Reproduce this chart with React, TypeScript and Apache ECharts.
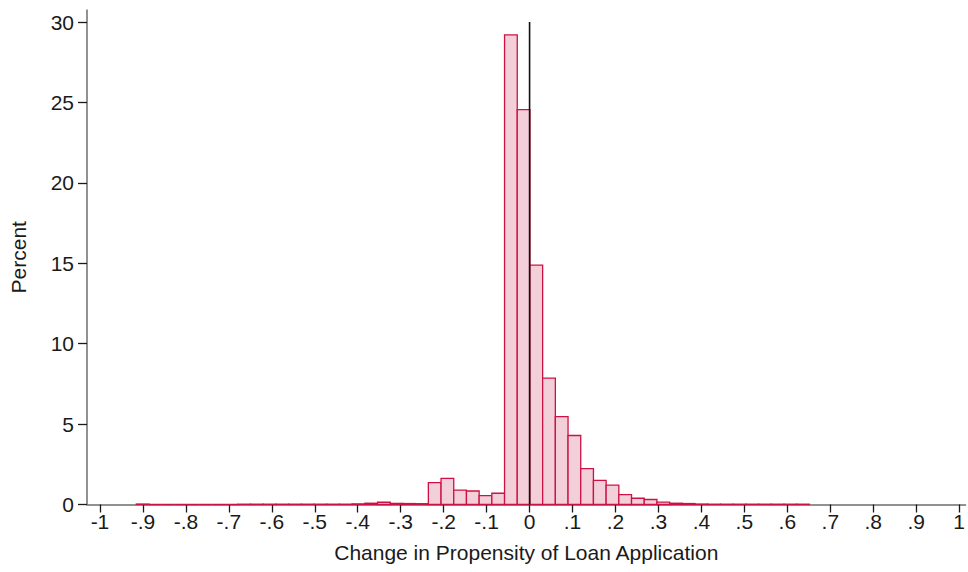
import React, { useEffect, useRef } from "react";
import * as echarts from "echarts";

// Histogram bins (Stata-style: equal width starting at min)
const binStart = -0.9155;
const binWidth = 0.02956;
const percents = [
  0.03, 0, 0, 0, 0, 0, 0, 0,
  0.02, 0.02, 0.02, 0.02, 0.02, 0.02, 0.02, 0.02, 0.02,
  0.04, 0.08, 0.14, 0.07, 0.06, 0.05,
  1.36, 1.63, 0.9, 0.84, 0.55, 0.7,
  29.2, 24.55, 14.88, 7.86, 5.47, 4.29, 2.23, 1.5, 1.2, 0.62, 0.39, 0.31, 0.15, 0.08, 0.06,
  0.03, 0.02, 0.02, 0.02, 0.02, 0.02, 0.02, 0.02, 0.02,
];
const xTicks = [-1, -0.9, -0.8, -0.7, -0.6, -0.5, -0.4, -0.3, -0.2, -0.1, 0, 0.1, 0.2, 0.3, 0.4, 0.5, 0.6, 0.7, 0.8, 0.9, 1];
const yTicks = [0, 5, 10, 15, 20, 25, 30];
const refLine = [
  [0, 0],
  [0, 30],
];
const xTitle = "Change in Propensity of Loan Application";
const yTitle = "Percent";

const FONT = "'Liberation Sans', Arial, Helvetica, sans-serif";

function fmtTick(v: number): string {
  if (v === 0) return "0";
  if (v === 1) return "1";
  if (v === -1) return "-1";
  const s = (Math.round(v * 10) / 10).toString();
  return s.replace("0.", ".");
}

export default function App() {
  const ref = useRef<HTMLDivElement>(null);
  useEffect(() => {
    if (!ref.current) return;
    const chart = echarts.init(ref.current, undefined, { renderer: "svg" });
    const binData = percents.map((p, i) => [binStart + i * binWidth, binStart + (i + 1) * binWidth, p]);
    chart.setOption({
      animation: false,
      backgroundColor: "#ffffff",
      grid: { left: 85, right: 1, top: 10, bottom: 67.5, containLabel: false },
      xAxis: {
        type: "value",
        min: -1.0302,
        max: 1.0148,
        name: xTitle,
        nameLocation: "middle",
        nameGap: 37,
        nameTextStyle: { fontFamily: FONT, fontSize: 21, color: "#1a1a1a" },
        splitLine: { show: false },
        axisLine: { show: true, onZero: false, lineStyle: { color: "#6e6e6e", width: 1.5 } },
        axisTick: { show: true, length: 8, customValues: xTicks, lineStyle: { color: "#1a1a1a", width: 1.3 } },
        axisLabel: {
          customValues: xTicks,
          formatter: (v: number) => fmtTick(v),
          fontFamily: FONT,
          fontSize: 21,
          color: "#1a1a1a",
          margin: 6,
        },
      },
      yAxis: {
        type: "value",
        min: 0,
        max: 30.75,
        name: yTitle,
        nameLocation: "middle",
        nameGap: 58,
        nameTextStyle: { fontFamily: FONT, fontSize: 21, color: "#1a1a1a" },
        splitLine: { show: false },
        axisLine: { show: true, onZero: false, lineStyle: { color: "#6e6e6e", width: 1.5 } },
        axisTick: { show: true, length: 9, customValues: yTicks, lineStyle: { color: "#1a1a1a", width: 1.3 } },
        axisLabel: {
          customValues: yTicks,
          fontFamily: FONT,
          fontSize: 21,
          color: "#1a1a1a",
          margin: 13,
        },
      },
      series: [
        {
          type: "custom",
          data: binData,
          encode: { x: [0, 1], y: 2 },
          renderItem: (params: any, api: any) => {
            const p0 = api.coord([api.value(0), 0]);
            const p1 = api.coord([api.value(1), api.value(2)]);
            return {
              type: "rect",
              shape: { x: p0[0], y: p1[1], width: p1[0] - p0[0], height: p0[1] - p1[1] },
              style: { fill: "#f3d0d9", stroke: "#cc1244", lineWidth: 1.3 },
            };
          },
          z: 3,
        },
        {
          type: "line",
          data: refLine,
          symbol: "none",
          lineStyle: { color: "#111111", width: 1.6 },
          z: 5,
        },
      ],
    });
    return () => chart.dispose();
  }, []);
  return (
    <div
      ref={ref}
      style={{ position: "fixed", left: 0, top: 0, width: 968, height: 572, background: "#fff" }}
    />
  );
}
